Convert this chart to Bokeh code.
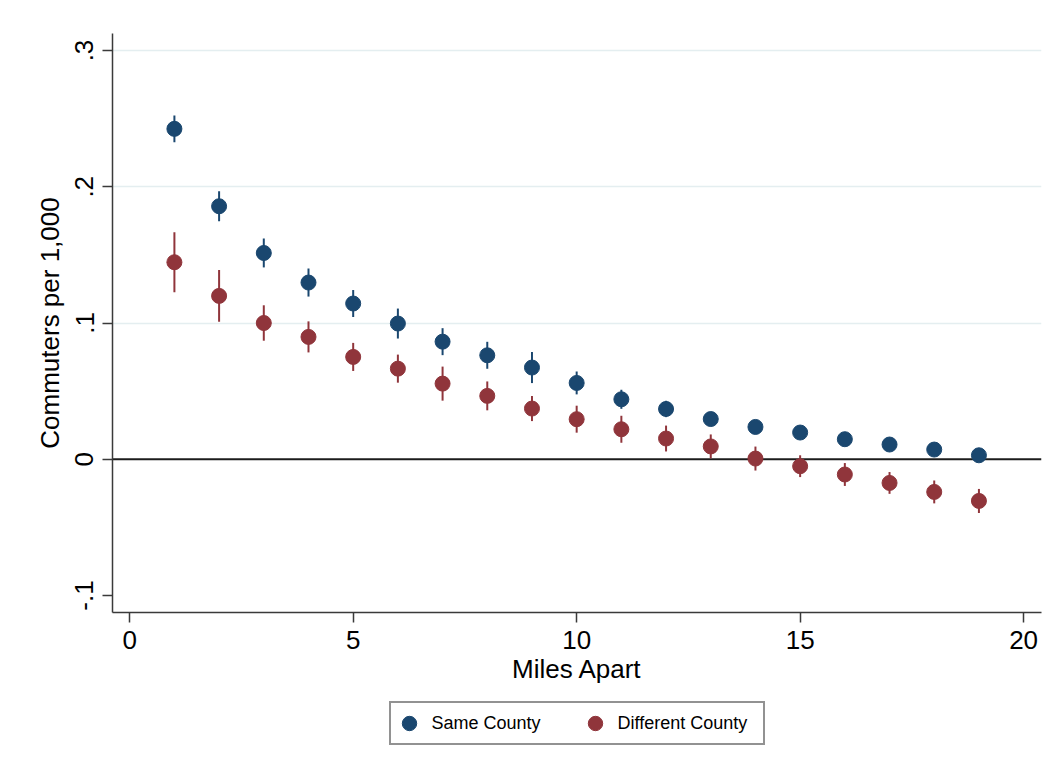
from bokeh.plotting import figure
from bokeh.layouts import column
from bokeh.models import Legend, LegendItem, FixedTicker, Span, Range1d
from bokeh.embed import file_html
from bokeh.resources import INLINE

# ---- data ----
miles = list(range(1, 20))
same_county = [0.2425, 0.1857, 0.1514, 0.1297, 0.1143, 0.0996, 0.0863, 0.0763, 0.0673,
               0.0560, 0.0440, 0.0369, 0.0295, 0.0237, 0.0196, 0.0147, 0.0108, 0.0071, 0.0029]
same_err = [0.0099, 0.0110, 0.0106, 0.0103, 0.0099, 0.0110, 0.0099, 0.0099, 0.0114,
            0.0084, 0.0070, 0.0060, 0.0050, 0.0040, 0.0040, 0.0040, 0.0040, 0.0040, 0.0040]
diff_county = [0.1446, 0.1199, 0.1000, 0.0898, 0.0751, 0.0665, 0.0555, 0.0465, 0.0372,
               0.0294, 0.0220, 0.0152, 0.0094, 0.0005, -0.0051, -0.0112, -0.0174, -0.0240, -0.0306]
diff_err = [0.0220, 0.0190, 0.0130, 0.0114, 0.0103, 0.0103, 0.0125, 0.0106, 0.0092,
            0.0099, 0.0099, 0.0095, 0.0088, 0.0088, 0.0080, 0.0084, 0.0080, 0.0084, 0.0088]

x_ticks = [0, 5, 10, 15, 20]
y_ticks = [-0.1, 0, 0.1, 0.2, 0.3]
y_tick_labels = ["-.1", "0", ".1", ".2", ".3"]
grid_ticks = [0.1, 0.2, 0.3]
series_labels = ["Same County", "Different County"]

BLUE = "#1a476f"
RED = "#90353b"
FONT = "Liberation Sans"
AXIS_COLOR = "#3a3a3a"

p = figure(width=1049, height=692,
           x_range=Range1d(-0.385, 20.4), y_range=Range1d(-0.1125, 0.3125),
           output_backend="svg", toolbar_location=None,
           min_border_left=112, min_border_right=8, min_border_top=33, min_border_bottom=80)
p.outline_line_color = None
p.background_fill_color = "white"
p.border_fill_color = "white"

# grid
p.xgrid.visible = False
p.ygrid.ticker = FixedTicker(ticks=grid_ticks)
p.ygrid.grid_line_color = "#e4eef0"
p.ygrid.grid_line_width = 1.5

# zero line
p.add_layout(Span(location=0, dimension="width", line_color="#1c1c1c", line_width=2, level="underlay"))

# error bars
same_lo = [v - e for v, e in zip(same_county, same_err)]
same_hi = [v + e for v, e in zip(same_county, same_err)]
diff_lo = [v - e for v, e in zip(diff_county, diff_err)]
diff_hi = [v + e for v, e in zip(diff_county, diff_err)]
p.segment(x0=miles, y0=same_lo, x1=miles, y1=same_hi, line_color=BLUE, line_width=2)
p.segment(x0=miles, y0=diff_lo, x1=miles, y1=diff_hi, line_color=RED, line_width=2)

p.scatter(miles, same_county, size=15, fill_color=BLUE, line_color=BLUE)
p.scatter(miles, diff_county, size=15, fill_color=RED, line_color=RED)

# axes
for ax in (p.xaxis[0], p.yaxis[0]):
    ax.axis_line_color = AXIS_COLOR
    ax.axis_line_width = 1.5
    ax.major_tick_line_color = AXIS_COLOR
    ax.major_tick_line_width = 1.5
    ax.major_tick_out = 10
    ax.major_tick_in = 0
    ax.minor_tick_line_color = None
    ax.major_label_text_font = FONT
    ax.major_label_text_font_size = "26px"
    ax.major_label_text_color = "black"
    ax.axis_label_text_font = FONT
    ax.axis_label_text_font_size = "26px"
    ax.axis_label_text_font_style = "normal"
    ax.axis_label_text_color = "black"

p.xaxis.ticker = FixedTicker(ticks=x_ticks)
p.xaxis.axis_label = "Miles Apart"
p.xaxis.major_label_standoff = 8
p.xaxis.axis_label_standoff = 2

p.yaxis.ticker = FixedTicker(ticks=y_ticks)
p.yaxis.major_label_overrides = {t: l for t, l in zip(y_ticks, y_tick_labels)}
p.yaxis.major_label_orientation = "vertical"
p.yaxis.axis_label = "Commuters per 1,000"
p.yaxis.major_label_standoff = 9
p.yaxis.axis_label_standoff = 8

# legend strip (separate figure below, same horizontal frame).
# Its renderers hold the first point of each series; the strip's ranges keep
# them out of view so only the legend swatches show.
lf = figure(width=1049, height=70, x_range=Range1d(100, 101), y_range=Range1d(100, 101),
            output_backend="svg", toolbar_location=None,
            min_border_left=112, min_border_right=8, min_border_top=0, min_border_bottom=0)
lf.outline_line_color = None
lf.axis.visible = False
lf.grid.visible = False
r_same = lf.scatter(x=miles[:1], y=same_county[:1], size=15, fill_color=BLUE, line_color=BLUE)
r_diff = lf.scatter(x=miles[:1], y=diff_county[:1], size=15, fill_color=RED, line_color=RED)

legend = Legend(items=[LegendItem(label=series_labels[0], renderers=[r_same]),
                       LegendItem(label=series_labels[1], renderers=[r_diff])],
                orientation="horizontal", location="top_center",
                padding=0, spacing=0, margin=9,
                glyph_width=36, glyph_height=40, label_standoff=5, label_width=145,
                label_text_font=FONT, label_text_font_size="18px", label_text_color="black",
                border_line_color="#262626", border_line_width=2,
                background_fill_color="white", background_fill_alpha=1.0)
lf.add_layout(legend)

open("out.html", "w").write(file_html(column(p, lf), INLINE))
